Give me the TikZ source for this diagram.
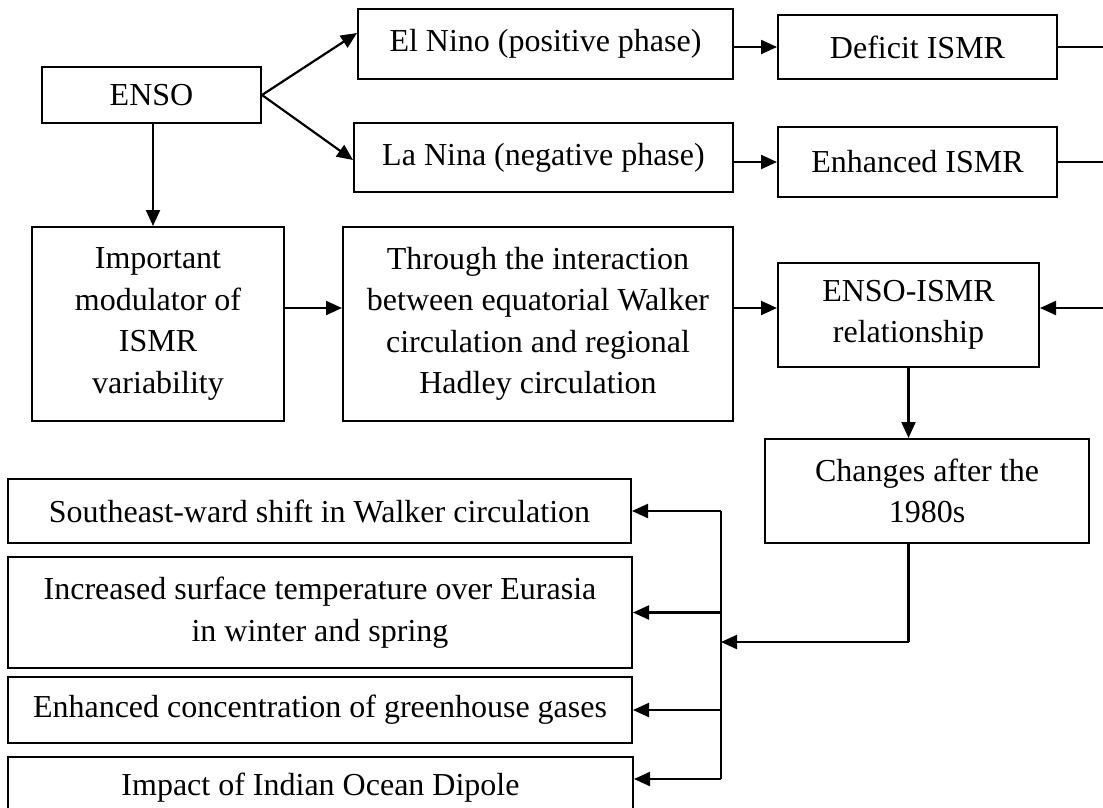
\documentclass[tikz,border=0pt]{standalone}
\usepackage{fontspec}
\setmainfont{Liberation Serif}
\usetikzlibrary{arrows.meta}
\begin{document}
\begin{tikzpicture}[x=1pt,y=-1pt,
  box/.style={draw,line width=2pt,rectangle,inner sep=0pt,align=center,font=\fontsize{32}{41.5}\selectfont},
  arr/.style={line width=2.2pt,-{Triangle[length=16pt,width=14pt]}},
  ln/.style={line width=2.2pt}]
\useasboundingbox (0,0) rectangle (1103,807);
\clip (0,0) rectangle (1103,807);

% nodes
\node[box,minimum width=219pt,minimum height=56pt] (enso) at (151.5,95) {ENSO};
\node[box,minimum width=375pt,minimum height=70pt] (elnino) at (545.5,44) {El Nino (positive phase)};
\node[box,minimum width=379pt,minimum height=69pt] (lanina) at (543.5,157.5) {La Nina (negative phase)};
\node[box,minimum width=279pt,minimum height=64pt] (deficit) at (917.5,47) {Deficit ISMR};
\node[box,minimum width=279pt,minimum height=70pt] (enhanced) at (917.5,162) {Enhanced ISMR};
\node[box,minimum width=252pt,minimum height=194pt] (important) at (158,324) {Important\\modulator of\\ISMR\\variability};
\node[box,minimum width=390pt,minimum height=194pt] (through) at (538,324) {Through the interaction\\between equatorial Walker\\circulation and regional\\Hadley circulation};
\node[box,minimum width=261pt,minimum height=104pt] (rel) at (908.5,315) {ENSO-ISMR\\relationship};
\node[box,minimum width=324pt,minimum height=104pt] (changes) at (927,491) {Changes after the\\1980s};
\node[box,minimum width=623pt,minimum height=64pt] (se) at (319.5,511) {Southeast-ward shift in Walker circulation};
\node[box,minimum width=624pt,minimum height=111pt] (inc) at (320,612.5) {Increased surface temperature over Eurasia\\in winter and spring};
\node[box,minimum width=624pt,minimum height=66pt] (ghg) at (320,710) {Enhanced concentration of greenhouse gases};
\node[box,minimum width=625pt,minimum height=62pt] (iod) at (320.5,788) {Impact of Indian Ocean Dipole};

% free ends
\coordinate (r1) at (1110,47);
\coordinate (r2) at (1110,162);
\coordinate (r3) at (1110,308);
\coordinate (elbow) at (908.5,642);
\coordinate (busTop) at (721,511);
\coordinate (busBot) at (721,779);
\coordinate (busMid) at (721,642);

% connectors
\draw[arr] (enso.east) -- ([yshift=11pt]elnino.west);
\draw[arr] (enso.east) -- ([yshift=-2.5pt]lanina.west);
\draw[arr] ([xshift=1.5pt]enso.south) -- ([xshift=1.5pt]enso.south |- important.north);
\draw[arr] (elnino.east |- deficit.west) -- (deficit.west);
\draw[arr] (lanina.east |- enhanced.west) -- (enhanced.west);
\draw[ln] (deficit.east) -- (r1);
\draw[ln] (enhanced.east) -- (r2);
\draw[arr] ([yshift=16pt]important.east) -- ([yshift=16pt]through.west);
\draw[arr] ([yshift=16pt]through.east) -- ([yshift=7pt]rel.west);
\draw[arr] (r3) -- ([yshift=7pt]rel.east);
\draw[arr] (rel.south) -- (rel.south |- changes.north);
\draw[ln] (changes.south -| rel.south) -- (elbow);
\draw[arr] (elbow) -- (busMid);
\draw[ln] (busTop) -- (busBot);
\draw[arr] (busTop) -- (se.east);
\draw[arr] (busTop |- inc.east) -- (inc.east);
\draw[arr] (busTop |- ghg.east) -- (ghg.east);
\draw[arr] (busBot) -- (busBot -| iod.east);
\end{tikzpicture}
\end{document}
